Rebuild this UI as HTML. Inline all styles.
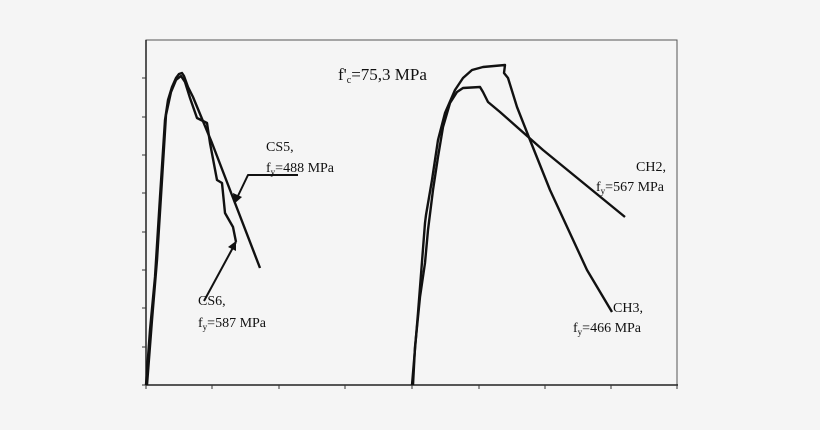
<!DOCTYPE html>
<html><head><style>
body{margin:0;background:#f5f5f5}
svg{display:block}
text{font-family:"Liberation Serif",serif;fill:#111}
</style></head><body>
<svg width="820" height="430" viewBox="0 0 820 430">
<rect width="820" height="430" fill="#f5f5f5"/>
<rect x="146" y="40" width="531" height="345" fill="#f5f5f5" stroke="#555" stroke-width="1"/>
<g stroke="#222" stroke-width="1.5">
<line x1="146" y1="40" x2="146" y2="385"/>
<line x1="146" y1="385" x2="678" y2="385"/>
</g>
<g stroke="#333" stroke-width="1">
<line x1="142" y1="78" x2="146" y2="78"/><line x1="142" y1="117" x2="146" y2="117"/>
<line x1="142" y1="155" x2="146" y2="155"/><line x1="142" y1="193" x2="146" y2="193"/>
<line x1="142" y1="232" x2="146" y2="232"/><line x1="142" y1="270" x2="146" y2="270"/>
<line x1="142" y1="308" x2="146" y2="308"/><line x1="142" y1="347" x2="146" y2="347"/>
<line x1="142" y1="385" x2="146" y2="385"/>
<line x1="146" y1="385" x2="146" y2="389"/><line x1="212" y1="385" x2="212" y2="389"/>
<line x1="279" y1="385" x2="279" y2="389"/><line x1="345" y1="385" x2="345" y2="389"/>
<line x1="412" y1="385" x2="412" y2="389"/><line x1="479" y1="385" x2="479" y2="389"/>
<line x1="545" y1="385" x2="545" y2="389"/><line x1="611" y1="385" x2="611" y2="389"/>
<line x1="677" y1="385" x2="677" y2="389"/>
</g>
<g fill="none" stroke="#111" stroke-width="2.4" stroke-linejoin="round">
<polyline points="146,385 150,330 155,277 160,197 165,120 168,100 172,87 176,78 179,74 182,73 184,76 188,87 193,97 212,143 235,203 260,268"/>
<polyline points="147,385 152,320 157,260 162,180 166,115 171,92 176,80 181,76 185,82 190,98 197,118 207,123 210,143 217,180 222,183 225,213 233,227 236,242"/>
<polyline points="413,385 415,347 420,297 425,263 428,230 433,190 438,157 443,127 450,103 457,92 463,88 480,87 483,92 488,102 500,112 543,150 625,217"/>
<polyline points="412,385 418,313 425,223 426,215 432,180 438,140 445,113 455,90 463,78 472,70 483,67 505,65 504,73 508,78 517,107 530,140 550,190 587,270 612,312"/>
<polyline points="298,175 248,175 236,200" stroke-width="2"/>
<line x1="204" y1="301" x2="236" y2="242" stroke-width="2"/>
</g>
<polygon points="234,204 233,193 242,197" fill="#111"/>
<polygon points="236,241 228,247 236,251" fill="#111"/>
<text x="338" y="80" font-size="17">f'<tspan font-size="10" dy="3">c</tspan><tspan dy="-3">=75,3 MPa</tspan></text>
<g font-size="14">
<text x="266" y="151">CS5,</text>
<text x="266" y="172">f<tspan font-size="9" dy="3">y</tspan><tspan dy="-3">=488 MPa</tspan></text>
<text x="198" y="305">CS6,</text>
<text x="198" y="327">f<tspan font-size="9" dy="3">y</tspan><tspan dy="-3">=587 MPa</tspan></text>
<text x="636" y="171">CH2,</text>
<text x="596" y="191">f<tspan font-size="9" dy="3">y</tspan><tspan dy="-3">=567 MPa</tspan></text>
<text x="613" y="312">CH3,</text>
<text x="573" y="332">f<tspan font-size="9" dy="3">y</tspan><tspan dy="-3">=466 MPa</tspan></text>
</g>
</svg>
</body></html>
